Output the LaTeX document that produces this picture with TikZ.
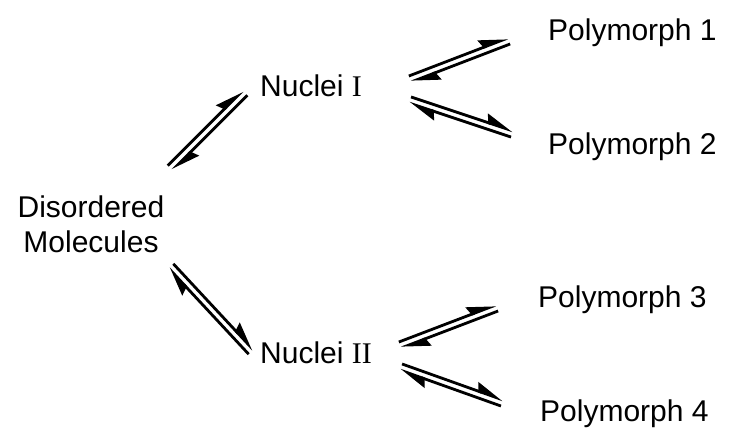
\documentclass[tikz,border=0pt]{standalone}
\usepackage{fontspec}
\setmainfont{Liberation Sans}
\newfontfamily\romfont{Liberation Serif}
\usetikzlibrary{arrows.meta,calc}
\tikzset{
  lbl/.style={inner sep=0pt, font=\fontsize{30}{35}\selectfont},
  eqline/.style={line width=2.8pt, -{Stealth[harpoon, length=25pt, width=17pt, inset=3pt]}}
}
\newcommand{\eqpair}[2]{%
  \draw[eqline] ($(#1)!3.2pt!90:(#2)$) -- ($(#2)!3.2pt!-90:(#1)$);
  \draw[eqline] ($(#2)!3.2pt!90:(#1)$) -- ($(#1)!3.2pt!-90:(#2)$);
}
\begin{document}
\begin{tikzpicture}[x=1pt,y=-1pt]
\useasboundingbox (0,0) rectangle (729,428);
\node[lbl, align=center, anchor=base] (dis) at (91,252) {Disordered\\Molecules};
\node[lbl, anchor=base west] (n1) at (260,97) {Nuclei {\romfont I}};
\node[lbl, anchor=base west] (n2) at (260,363) {Nuclei {\romfont II}};
\node[lbl, anchor=base west] (p1) at (548,41) {Polymorph 1};
\node[lbl, anchor=base west] (p2) at (548,154) {Polymorph 2};
\node[lbl, anchor=base west] (p3) at (538,307) {Polymorph 3};
\node[lbl, anchor=base west] (p4) at (540,421) {Polymorph 4};
\coordinate (a1s) at (170,168); \coordinate (a1e) at (245,93);
\coordinate (a2s) at (410,79);  \coordinate (a2e) at (509,41);
\coordinate (a3s) at (410,100); \coordinate (a3e) at (512,134);
\coordinate (a4s) at (171,266); \coordinate (a4e) at (251,352);
\coordinate (a5s) at (400,345); \coordinate (a5e) at (497,308);
\coordinate (a6s) at (401,367); \coordinate (a6e) at (502,403);
\eqpair{a1s}{a1e}
\eqpair{a2s}{a2e}
\eqpair{a3s}{a3e}
\eqpair{a4s}{a4e}
\eqpair{a5s}{a5e}
\eqpair{a6s}{a6e}
\end{tikzpicture}
\end{document}
